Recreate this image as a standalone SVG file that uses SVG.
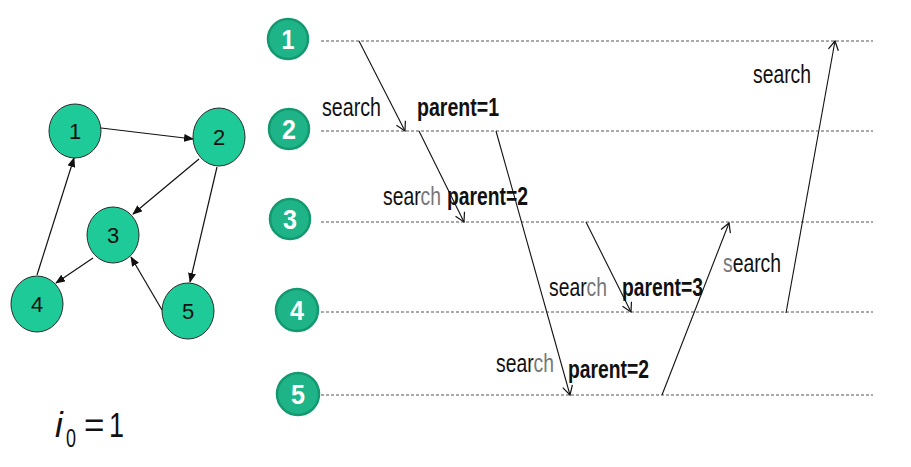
<svg xmlns="http://www.w3.org/2000/svg" width="911" height="467" viewBox="0 0 911 467">
<style>
.node ellipse{fill:#1ecb98;stroke:#2a2a2a;stroke-width:1}
.node text{font-family:"Liberation Sans",Arial,sans-serif;font-size:22px;fill:#111;text-anchor:middle}
.proc circle{fill:#1fb487;stroke:#12996f;stroke-width:2.5}
.proc text{font-family:"Liberation Sans",Arial,sans-serif;font-size:28px;font-weight:bold;fill:#fff;text-anchor:middle}
.edge{stroke:#111;stroke-width:1.2;fill:none;marker-end:url(#tri)}
.msg{stroke:#111;stroke-width:1.1;fill:none;marker-end:url(#vee)}
.dash{stroke:#555;stroke-width:1;stroke-dasharray:3 2;fill:none}
.lbl{font-family:"Liberation Sans",Arial,sans-serif;font-size:26px;fill:#111}
.bold{font-weight:bold}
.gray{fill:#777}
</style>
<defs>
<marker id="tri" markerWidth="10" markerHeight="8" refX="9" refY="4" orient="auto" markerUnits="userSpaceOnUse">
<path d="M0,0 L10,4 L0,8 Z" fill="#111"/>
</marker>
<marker id="vee" markerWidth="12" markerHeight="12" refX="10" refY="6" orient="auto" markerUnits="userSpaceOnUse">
<path d="M1,1 L10,6 L1,11" fill="none" stroke="#111" stroke-width="1.2"/>
</marker>
</defs>
<rect width="911" height="467" fill="#fff"/>

<g id="graph-edges">
<line class="edge" x1="101" y1="128" x2="193" y2="139"/>
<line class="edge" x1="199" y1="159" x2="133" y2="214"/>
<line class="edge" x1="217" y1="167" x2="190" y2="282"/>
<line class="edge" x1="93" y1="258" x2="56" y2="283"/>
<line class="edge" x1="37" y1="275" x2="74" y2="158"/>
<line class="edge" x1="162" y1="310" x2="131" y2="257"/>
</g>

<g id="g1" class="node"><ellipse cx="75" cy="131" rx="26" ry="27"/><text x="75" y="139">1</text></g>
<g id="g2" class="node"><ellipse cx="219" cy="137" rx="26" ry="29"/><text x="219" y="145">2</text></g>
<g id="g3" class="node"><ellipse cx="113" cy="235" rx="26" ry="28"/><text x="113" y="243">3</text></g>
<g id="g4" class="node"><ellipse cx="37" cy="304" rx="26" ry="28"/><text x="37" y="312">4</text></g>
<g id="g5" class="node"><ellipse cx="188" cy="311" rx="26" ry="28"/><text x="188" y="319">5</text></g>

<g id="i0label" font-family="Liberation Sans,Arial,sans-serif" fill="#111">
<text x="55" y="437" font-size="35" font-style="italic">i</text>
<text x="66" y="447" font-size="25" textLength="10" lengthAdjust="spacingAndGlyphs">0</text>
<text x="84" y="437" font-size="35">=</text>
<text x="109" y="437" font-size="35" textLength="15" lengthAdjust="spacingAndGlyphs">1</text>
</g>

<g id="timelines">
<line class="dash" x1="321" y1="41" x2="873" y2="41"/>
<line class="dash" x1="321" y1="131" x2="873" y2="131"/>
<line class="dash" x1="321" y1="222" x2="873" y2="222"/>
<line class="dash" x1="321" y1="312" x2="873" y2="312"/>
<line class="dash" x1="321" y1="395" x2="873" y2="395"/>
</g>

<g id="p1" class="proc"><circle cx="288" cy="39" r="20"/><text x="288" y="49" textLength="13" lengthAdjust="spacingAndGlyphs">1</text></g>
<g id="p2" class="proc"><circle cx="289" cy="129" r="20"/><text x="289" y="139" textLength="14" lengthAdjust="spacingAndGlyphs">2</text></g>
<g id="p3" class="proc"><circle cx="290" cy="219" r="20"/><text x="290" y="229" textLength="14" lengthAdjust="spacingAndGlyphs">3</text></g>
<g id="p4" class="proc"><circle cx="297" cy="310" r="21"/><text x="297" y="320" textLength="14" lengthAdjust="spacingAndGlyphs">4</text></g>
<g id="p5" class="proc"><circle cx="298" cy="394" r="21"/><text x="298" y="404" textLength="14" lengthAdjust="spacingAndGlyphs">5</text></g>

<g id="messages">
<line class="msg" x1="359" y1="41" x2="405" y2="131"/>
<line class="msg" x1="419" y1="131" x2="464" y2="222"/>
<line class="msg" x1="496" y1="131" x2="570" y2="395"/>
<line class="msg" x1="586" y1="222" x2="631" y2="312"/>
<line class="msg" x1="662" y1="395" x2="729" y2="223"/>
<line class="msg" x1="786" y1="313" x2="835" y2="41"/>
</g>

<g id="labels">
<text class="lbl" x="322" y="116" textLength="59" lengthAdjust="spacingAndGlyphs">search</text>
<text class="lbl bold" x="417" y="116" textLength="82" lengthAdjust="spacingAndGlyphs">parent=1</text>
<text class="lbl" x="383" y="205" textLength="58" lengthAdjust="spacingAndGlyphs">sear<tspan class="gray">ch</tspan></text>
<text class="lbl bold" x="447" y="205" textLength="81" lengthAdjust="spacingAndGlyphs">parent=2</text>
<text class="lbl" x="549" y="296" textLength="58" lengthAdjust="spacingAndGlyphs">sear<tspan class="gray">ch</tspan></text>
<text class="lbl bold" x="622" y="296" textLength="81" lengthAdjust="spacingAndGlyphs">parent=3</text>
<text class="lbl" x="496" y="372" textLength="58" lengthAdjust="spacingAndGlyphs">sear<tspan class="gray">ch</tspan></text>
<text class="lbl bold" x="568" y="378" textLength="81" lengthAdjust="spacingAndGlyphs">parent=2</text>
<text class="lbl" x="723" y="272" textLength="58" lengthAdjust="spacingAndGlyphs"><tspan class="gray">s</tspan>earch</text>
<text class="lbl" x="753" y="83" textLength="58" lengthAdjust="spacingAndGlyphs">search</text>
</g>
</svg>
